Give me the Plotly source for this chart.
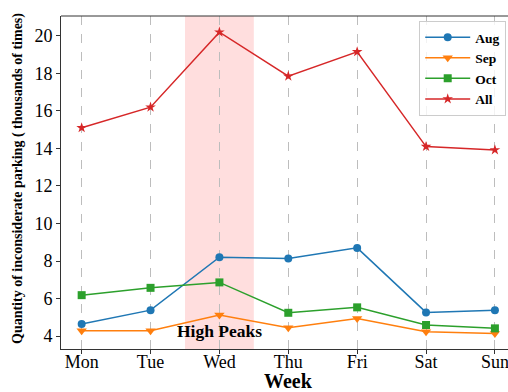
import plotly.graph_objects as go

days = ["Mon", "Tue", "Wed", "Thu", "Fri", "Sat", "Sun"]
aug = [4.64, 5.38, 8.2, 8.14, 8.7, 5.26, 5.38]
sep = [4.28, 4.28, 5.12, 4.44, 4.94, 4.23, 4.14]
octo = [6.18, 6.57, 6.86, 5.24, 5.53, 4.59, 4.41]
all_ = [15.1, 16.2, 20.2, 17.85, 19.15, 14.1, 13.92]
y_ticks = [4, 6, 8, 10, 12, 14, 16, 18, 20]

serif = "Liberation Serif, Times New Roman, serif"
xs = list(range(len(days)))

fig = go.Figure()
series = [
    ("Aug", aug, "#1f77b4", "circle", 8),
    ("Sep", sep, "#ff7f0e", "triangle-down", 9),
    ("Oct", octo, "#2ca02c", "square", 8),
    ("All", all_, "#d62728", "star", 8),
]
for name, vals, color, sym, size in series:
    fig.add_trace(go.Scatter(
        x=xs, y=vals, name="<b>" + name + "</b>", mode="lines+markers",
        line=dict(color=color, width=1.5),
        marker=dict(symbol=sym, size=size, color=color),
    ))

fig.add_shape(type="rect", xref="x", yref="paper", x0=1.5, x1=2.5, y0=0, y1=1,
              fillcolor="rgba(255,0,0,0.13)", line=dict(width=0), layer="below")
# top spine
fig.add_shape(type="line", xref="paper", yref="paper", x0=0, x1=1, y0=1, y1=1,
              line=dict(color="#333333", width=1), layer="above")

fig.add_annotation(x=2, y=4.27, text="<b>High Peaks</b>", showarrow=False,
                   font=dict(family=serif, size=17.5, color="black"))

# axis titles as annotations for exact placement
fig.add_annotation(x=3, xref="x", y=-0.095, yref="paper", yanchor="middle",
                   text="<b>Week</b>", showarrow=False,
                   font=dict(family=serif, size=20, color="black"))
fig.add_annotation(x=-0.0962, xref="paper", xanchor="center", y=0.5135, yref="paper",
                   yanchor="middle", textangle=-90,
                   text="<b>Quantity of inconsiderate parking ( thousands of times)</b>",
                   showarrow=False, font=dict(family=serif, size=14, color="black"))

fig.update_layout(
    width=508, height=392,
    margin=dict(l=61, r=0, t=16, b=43, autoexpand=False),
    plot_bgcolor="white", paper_bgcolor="white",
    font=dict(family=serif, size=18, color="black"),
    showlegend=True,
    legend=dict(
        x=0.996, y=0.985, xanchor="right", yanchor="top",
        bgcolor="rgba(255,255,255,0.8)", bordercolor="#cccccc", borderwidth=1,
        font=dict(family=serif, size=13.5, color="black"),
        itemwidth=45, tracegroupgap=0,
    ),
)
fig.update_xaxes(
    range=[-0.3, 6.19], tickmode="array", tickvals=xs, ticktext=days,
    showgrid=True, gridcolor="#bdbdbd", gridwidth=1, griddash="dash",
    showline=True, linecolor="#333333", linewidth=1, mirror=False,
    ticks="outside", ticklen=4, tickcolor="#333333", zeroline=False,
    tickfont=dict(size=18), automargin=False, ticklabeloverflow="allow",
    ticklabelstandoff=-8,
)
fig.update_yaxes(
    range=[3.31, 21.06], tickmode="array", tickvals=y_ticks,
    showgrid=False, showline=True, linecolor="#333333", linewidth=1,
    ticks="outside", ticklen=4, tickcolor="#333333", zeroline=False,
    tickfont=dict(size=18), automargin=False,
)

fig.write_html("out.html", config={"displayModeBar": False},
               post_script="document.body.style.margin='0';document.body.style.overflow='hidden';")
